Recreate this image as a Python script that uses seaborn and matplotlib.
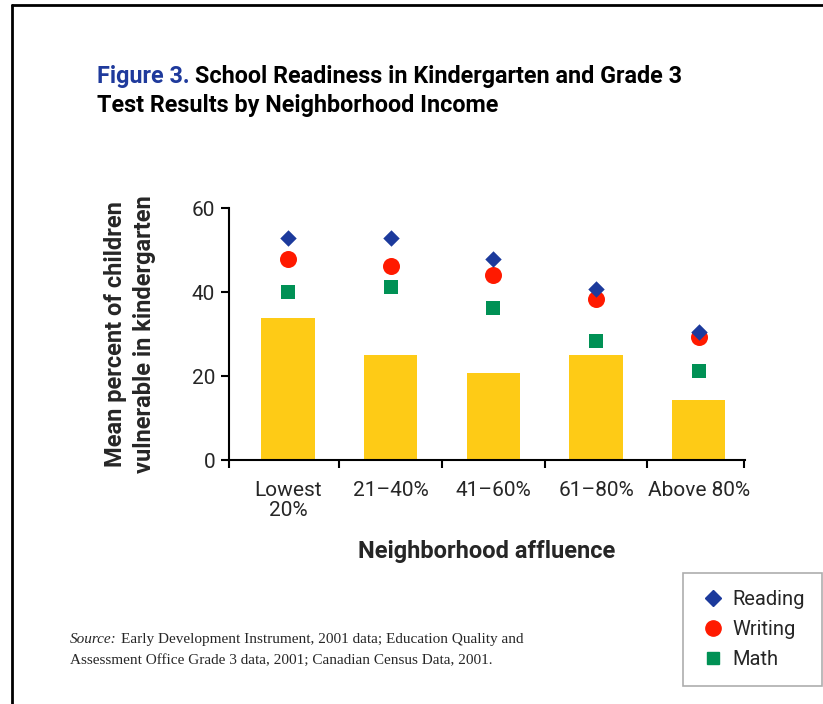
import matplotlib
matplotlib.use("Agg")
import matplotlib.pyplot as plt
import seaborn as sns
import pandas as pd
from matplotlib.lines import Line2D

categories = ["Lowest\n20%", "21\u201340%", "41\u201360%", "61\u201380%", "Above 80%"]
kindergarten = [33.8, 25.0, 20.7, 25.0, 14.3]
reading = [52.9, 52.9, 47.9, 40.7, 30.5]
writing = [47.9, 46.2, 44.0, 38.3, 29.3]
math_ = [40.0, 41.2, 36.2, 28.3, 21.2]
y_ticks = [0, 20, 40, 60]

sns.set_theme(style="white")
fam = ['Roboto', 'DejaVu Sans']
plt.rcParams['font.family'] = fam

fig = plt.figure(figsize=(8.23, 7.04), dpi=100)
fig.patch.set_facecolor("white")
ax = fig.add_axes([229/823, 1-460/704, (745-229)/823, 252/704])

bars = pd.DataFrame({"cat": categories, "val": kindergarten})
sns.barplot(data=bars, x="cat", y="val", color="#fecb16", width=0.52,
            saturation=1, ax=ax, edgecolor="none")

pts = pd.DataFrame({
    "cat": categories * 3,
    "val": reading + writing + math_,
    "subject": ["Reading"] * 5 + ["Writing"] * 5 + ["Math"] * 5,
})
palette = {"Reading": "#1c3a9c", "Writing": "#ff1a00", "Math": "#009155"}
markers = {"Reading": "D", "Writing": "o", "Math": "s"}
sizes_map = {"Reading": 70, "Writing": 150, "Math": 95}
for subj in ["Math", "Writing", "Reading"]:
    sub = pts[pts.subject == subj]
    sns.scatterplot(data=sub, x="cat", y="val", color=palette[subj],
                    marker=markers[subj], s=sizes_map[subj], linewidth=0,
                    ax=ax, legend=False, zorder=3)

x0, x1 = -0.574, 4.45
ax.set_xlim(x0, x1)
ax.set_ylim(0, 60)
ax.set_yticks(y_ticks)
ax.set_yticklabels([str(t) for t in y_ticks], fontsize=15)
for s in ["top", "right"]:
    ax.spines[s].set_visible(False)
for s in ["left", "bottom"]:
    ax.spines[s].set_color("black")
    ax.spines[s].set_linewidth(1.5)
ax.set_xticks([x0, 0.5, 1.5, 2.5, 3.5, x1 - 0.005], minor=False)
ax.set_xticklabels([])
ax.tick_params(axis="x", which="major", direction="out", length=6, width=1.5, color="black", bottom=True)
ax.set_xticks(range(5), minor=True)
ax.set_xticklabels(categories, minor=True, fontsize=15, linespacing=1.05)
ax.tick_params(axis="x", which="minor", length=0, pad=15)
ax.tick_params(axis="y", direction="out", length=6, width=1.5, color="black", left=True, pad=4)
ax.set_xlabel("Neighborhood affluence", fontsize=17, fontweight="bold", labelpad=15)
ax.set_ylabel("Mean percent of children\nvulnerable in kindergarten", fontsize=17,
              fontweight="bold", labelpad=26, linespacing=1.3)

# Title
t1 = fig.text(97/823, 1-83/704, "Figure 3.", color="#1f3a9c", fontsize=16.8, fontweight="bold",
              va="baseline")
fig.canvas.draw()
bb = t1.get_window_extent()
fig.text(bb.x1/823 + 5/823, 1-83/704, "School Readiness in Kindergarten and Grade 3",
         color="black", fontsize=16.8, fontweight="bold", va="baseline")
fig.text(97/823, 1-112/704, "Test Results by Neighborhood Income", color="black",
         fontsize=16.8, fontweight="bold", va="baseline")

# Source
src_fam = ['Liberation Serif']
s1 = fig.text(70/823, 1-643/704, "Source:", fontsize=11, style="italic", family=src_fam, va="baseline")
fig.canvas.draw()
bb = s1.get_window_extent()
fig.text(bb.x1/823 + 4/823, 1-643/704,
         "Early Development Instrument, 2001 data; Education Quality and",
         fontsize=11, family=src_fam, va="baseline")
fig.text(70/823, 1-664/704,
         "Assessment Office Grade 3 data, 2001; Canadian Census Data, 2001.",
         fontsize=11, family=src_fam, va="baseline")

# Legend
handles = [
    Line2D([], [], linestyle="none", marker="D", color=palette["Reading"], markersize=8),
    Line2D([], [], linestyle="none", marker="o", color=palette["Writing"], markersize=11),
    Line2D([], [], linestyle="none", marker="s", color=palette["Math"], markersize=9),
]
leg = fig.legend(handles, ["Reading", "Writing", "Math"], loc="upper left",
                 bbox_to_anchor=(683/823, 1-573/704), bbox_transform=fig.transFigure,
                 frameon=True, fancybox=False, edgecolor="#999999",
                 prop={"size": 14.5}, handletextpad=0.3,
                 borderpad=0.85, labelspacing=0.55, handlelength=1.3,
                 borderaxespad=0)
leg.get_frame().set_linewidth(1.2)

# Page border lines
fig.add_artist(Line2D([12/823, 12/823], [0, 1-5/704], transform=fig.transFigure, color="black", lw=2))
fig.add_artist(Line2D([12/823, 1], [1-5/704, 1-5/704], transform=fig.transFigure, color="black", lw=2))

fig.savefig("out.png", dpi=100)
